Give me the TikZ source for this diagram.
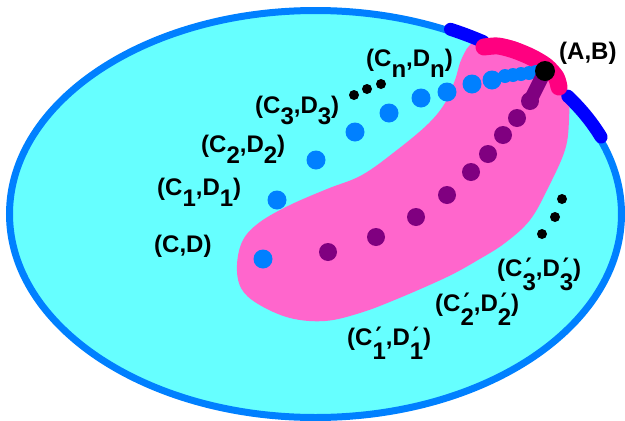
\documentclass[tikz,border=0pt]{standalone}
\usepackage{fontspec}
\setmainfont{Liberation Sans}
\newfontfamily\primefont{DejaVu Sans}
\definecolor{cyanfill}{RGB}{102,255,255}
\definecolor{rim}{RGB}{0,128,255}
\definecolor{dotblue}{RGB}{0,128,255}
\definecolor{pinkc}{RGB}{255,102,204}
\definecolor{magc}{RGB}{255,0,128}
\definecolor{dkblue}{RGB}{0,0,255}
\definecolor{purp}{RGB}{128,0,128}
\newcommand\lsb[1]{\raisebox{-11.5pt}{#1}}
\newcommand\lpsb[1]{\rlap{\hspace{3pt}\raisebox{1pt}{\primefont\bfseries ′}}\raisebox{-14pt}{#1}}
\begin{document}
\begin{tikzpicture}[x=1pt,y=-1pt,
  bdot/.style={circle,fill=dotblue,inner sep=0pt,minimum size=19pt},
  sbdot/.style={circle,fill=dotblue,inner sep=0pt,minimum size=14pt},
  pdot/.style={circle,fill=purp,inner sep=0pt,minimum size=18pt},
  kdot/.style={circle,fill=black,inner sep=0pt,minimum size=10pt},
  lbl/.style={anchor=base west,inner sep=0pt,font=\bfseries\fontsize{24}{24}\selectfont}]
\useasboundingbox (0,0) rectangle (625,421);
% outer region
\draw[line width=7pt,draw=rim,fill=cyanfill] (315.5,214) ellipse [x radius=306pt,y radius=203.5pt];
% pink region
\fill[pinkc] plot[smooth cycle,tension=0.6] coordinates {
  (237,265) (243,240) (260,222) (290,205) (327,189) (362,175) (397,150)
  (428,124) (445,103) (455,80) (462,58) (475,42) (510,40) (540,55)
  (560,72) (568,95) (569,120) (565,150) (548,188) (530,220) (505,243)
  (478,260) (447,277) (397,299) (360,313) (325,321) (290,318) (258,304) (241,288)};
% coloured parts of the rim
\draw[dkblue,line width=13pt,line cap=round] plot[domain=57:64,samples=12]
  ({315.5+308*cos(\x)},{214-205.5*sin(\x)});
\draw[dkblue,line width=13pt,line cap=round] plot[domain=22:35,samples=16]
  ({315.5+308*cos(\x)},{214-205.5*sin(\x)});
\draw[magc,line width=17pt,line cap=round,line join=round] plot[smooth] coordinates
  {(484,47) (498,46) (514,50) (531,57) (546,66) (556,77) (559,87)};
% blue sequence
\node[bdot] (b0) at (263,259) {};
\node[bdot] (b1) at (277,200) {};
\node[bdot] (b2) at (316,160) {};
\node[bdot] (b3) at (355,132) {};
\node[bdot] (b4) at (389,113) {};
\node[bdot] (b5) at (421,98) {};
\node[bdot] (b6) at (447,92) {};
\node[bdot] (b7) at (472,84) {};
\node[bdot] (b8) at (492,80) {};
\node[sbdot] (b9) at (505,76) {};
\node[sbdot] (b10) at (513,75) {};
\node[sbdot] (b11) at (521,74) {};
\node[sbdot] (b12) at (529,73) {};
\node[sbdot] (b13) at (536,72) {};
% purple sequence
\node[pdot] (p1) at (328,252) {};
\node[pdot] (p2) at (376,237) {};
\node[pdot] (p3) at (416,217) {};
\node[pdot] (p4) at (447,195) {};
\node[pdot] (p5) at (471,172) {};
\node[pdot] (p6) at (488,154) {};
\node[pdot] (p7) at (503,135) {};
\node[pdot] (p8) at (517,118) {};
\node[pdot] (p9) at (530,101) {};
\coordinate (abc) at (545,71);
\draw[purp,line width=14pt,line cap=round] (p9.center) -- (abc);
\node[circle,fill=black,inner sep=0pt,minimum size=20pt] (ab) at (abc) {};
% ellipsis dots
\node[kdot] (k1) at (354,95) {};
\node[kdot] (k2) at (367,89) {};
\node[kdot] (k3) at (381,84) {};
\node[kdot] (k4) at (562,199) {};
\node[kdot] (k5) at (555,217) {};
\node[kdot] (k6) at (542,234) {};
% labels
\node[lbl] (lab) at (559,59) {(A,B)};
\node[lbl] (lcd) at (154,252.5) {(C,D)};
\node[lbl] (l1) at (157,195) {(C\lsb{1},D\lsb{1})};
\node[lbl] (l2) at (201,152) {(C\lsb{2},D\lsb{2})};
\node[lbl] (l3) at (255,113) {(C\lsb{3},D\lsb{3})};
\node[lbl] (ln) at (366,66) {(C\lsb{n},D\lsb{n})};
\node[lbl] (lp1) at (347,345) {(C\lpsb{1},D\lpsb{1})};
\node[lbl] (lp2) at (435,311) {(C\lpsb{2},D\lpsb{2})};
\node[lbl] (lp3) at (497,276) {(C\lpsb{3},D\lpsb{3})};
\end{tikzpicture}
\end{document}
